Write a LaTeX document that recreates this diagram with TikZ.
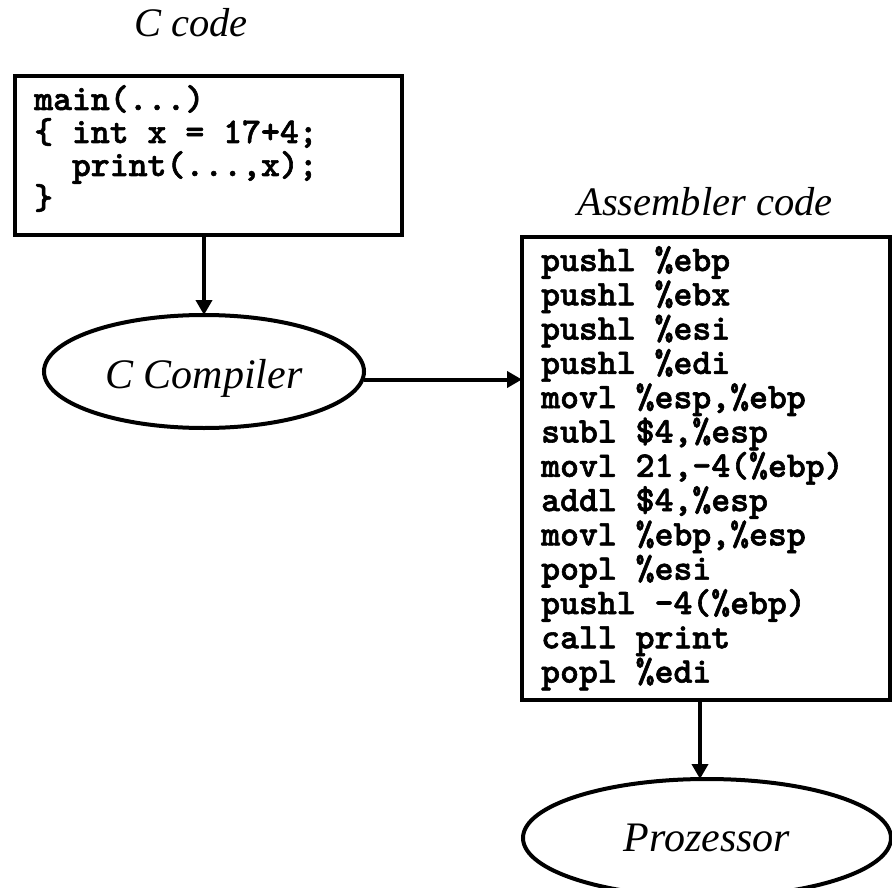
\documentclass[tikz,border=0pt]{standalone}
\usepackage{fontspec}
\setmainfont{Liberation Serif}
\newfontfamily\codefont{lmmonolt10-bold}[Extension=.otf, FakeBold=1.6]
\usetikzlibrary{shapes.geometric,arrows.meta}
\begin{document}
\begin{tikzpicture}[x=1pt,y=-1pt,
  codebox/.style={draw, line width=4pt, rectangle, inner sep=0pt, outer sep=0pt},
  codetext/.style={anchor=base west, inner sep=0pt, font=\codefont\fontsize{36}{33}\selectfont},
  title/.style={anchor=base, inner sep=0pt, font=\itshape\fontsize{40.5}{48}\selectfont},
  tool/.style={ellipse, draw, line width=4pt, inner sep=0pt, outer sep=0pt, font=\itshape\fontsize{42}{50}\selectfont, text depth=0pt},
  arr/.style={line width=4pt, -{Triangle[width=16pt,length=15pt]}}]
\fill[white] (0,0) rectangle (892,888);
\useasboundingbox (0,0) rectangle (892,888);

\node[title] (ctitle) at (191,37) {C code};
\node[codebox, minimum width=387pt, minimum height=159pt] (cbox) at (208.5,155.5) {};
\node[codetext] (ctext) at (34,110) {\vtop{\baselineskip=33pt
  \hbox{main(...)}
  \hbox{\{ int x = 17+4;}
  \hbox{\phantom{xx}print(...,x);}
  \hbox{\}}}};

\node[tool, minimum width=320pt, minimum height=113pt, text height=33pt] (cc) at (204,371.5) {C Compiler};

\node[title] (atitle) at (705,215) {Assembler code};
\node[codebox, minimum width=368pt, minimum height=463pt] (abox) at (706,468.5) {};
\node[codetext] (atext) at (541,271) {\vtop{\baselineskip=34.3pt
  \hbox{pushl \%ebp}
  \hbox{pushl \%ebx}
  \hbox{pushl \%esi}
  \hbox{pushl \%edi}
  \hbox{movl \%esp,\%ebp}
  \hbox{subl \$4,\%esp}
  \hbox{movl 21,-4(\%ebp)}
  \hbox{addl \$4,\%esp}
  \hbox{movl \%ebp,\%esp}
  \hbox{popl \%esi}
  \hbox{pushl -4(\%ebp)}
  \hbox{call print}
  \hbox{popl \%edi}}};

\node[tool, minimum width=368pt, minimum height=118pt, text height=26pt] (pz) at (707,838) {Prozessor};

\draw[arr] (cbox.south -| cc.north) -- (cc.north);
\draw[arr] ([yshift=-8pt]cc.east) -- ([yshift=-8pt]cc.east -| abox.west);
\draw[arr] ([xshift=-7pt]pz.north |- abox.south) -- ([xshift=-7pt]pz.north);
\end{tikzpicture}
\end{document}
